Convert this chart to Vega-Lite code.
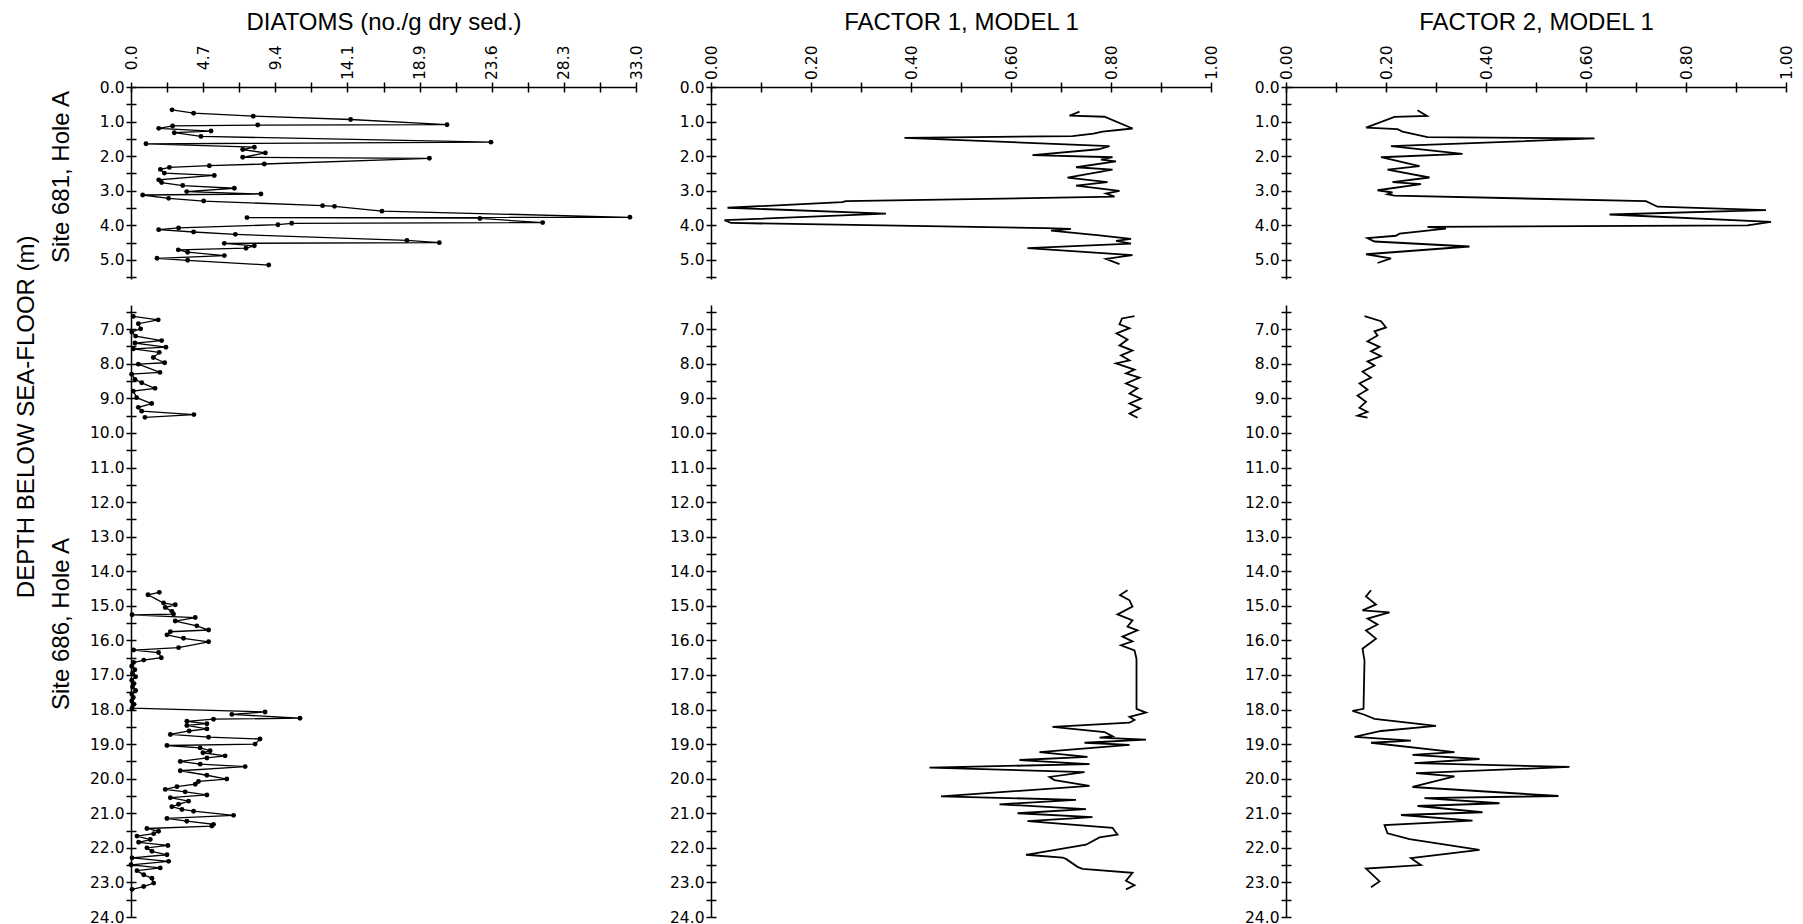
{
"$schema": "https://vega.github.io/schema/vega-lite/v6.json",
"background": "white",
"padding": {"left": 13, "top": 9, "right": 5, "bottom": 0},
"config": {
  "view": {"stroke": null},
  "font": "Liberation Sans",
  "axis": {"labelFont": "DejaVu Sans", "titleFont": "Liberation Sans", "labelColor": "black", "titleColor": "black", "domainColor": "black", "tickColor": "black", "grid": false, "labelFontSize": 15.5, "titleFontSize": 24, "titleFontWeight": "normal", "domainWidth": 1.5, "tickWidth": 1.5, "tickSize": 5, "labelFlush": false, "labelOverlap": false, "labelBound": false}
},
"datasets": {
  "dia681": [
    {"depth":0.66,"value":2.68},{"depth":0.757,"value":4.09},{"depth":0.844,"value":7.99},{"depth":0.94,"value":14.35},{"depth":1.09,"value":20.65},{"depth":1.10,"value":8.28},{"depth":1.126,"value":2.72},{"depth":1.195,"value":1.81},{"depth":1.273,"value":5.23},{"depth":1.321,"value":2.83},{"depth":1.428,"value":4.57},{"depth":1.594,"value":23.52},{"depth":1.642,"value":0.98},{"depth":1.74,"value":8.06},{"depth":1.808,"value":7.30},{"depth":1.905,"value":8.78},{"depth":2.032,"value":7.30},{"depth":2.061,"value":19.5},{"depth":2.226,"value":8.71},{"depth":2.275,"value":5.12},{"depth":2.324,"value":2.51},{"depth":2.382,"value":1.92},{"depth":2.489,"value":2.18},{"depth":2.557,"value":5.44},{"depth":2.684,"value":1.81},{"depth":2.762,"value":2.0},{"depth":2.849,"value":3.38},{"depth":2.927,"value":6.75},{"depth":3.024,"value":3.64},{"depth":3.092,"value":8.49},{"depth":3.122,"value":0.76},{"depth":3.219,"value":2.46},{"depth":3.297,"value":4.75},{"depth":3.43,"value":12.52},{"depth":3.45,"value":13.3},{"depth":3.589,"value":16.4},{"depth":3.766,"value":32.6},{"depth":3.775,"value":7.58},{"depth":3.80,"value":22.8},{"depth":3.92,"value":26.9},{"depth":3.94,"value":10.5},{"depth":3.98,"value":9.6},{"depth":4.075,"value":3.11},{"depth":4.124,"value":1.81},{"depth":4.192,"value":4.09},{"depth":4.26,"value":6.82},{"depth":4.435,"value":18.03},{"depth":4.50,"value":20.15},{"depth":4.52,"value":6.1},{"depth":4.591,"value":8.06},{"depth":4.66,"value":7.51},{"depth":4.708,"value":3.09},{"depth":4.776,"value":3.70},{"depth":4.873,"value":6.10},{"depth":4.951,"value":1.70},{"depth":5.01,"value":3.70},{"depth":5.146,"value":9.0}
  ],
  "dia686": [
    {"core":"A","depth":6.63,"value":0.15},{"core":"A","depth":6.73,"value":1.78},{"core":"A","depth":6.84,"value":0.48},{"core":"A","depth":6.99,"value":0.63},{"core":"A","depth":7.08,"value":0.05},{"core":"A","depth":7.20,"value":0.3},{"core":"A","depth":7.33,"value":2.0},{"core":"A","depth":7.40,"value":0.26},{"core":"A","depth":7.52,"value":2.28},{"core":"A","depth":7.57,"value":0.15},{"core":"A","depth":7.67,"value":1.85},{"core":"A","depth":7.82,"value":1.46},{"core":"A","depth":7.97,"value":2.2},{"core":"A","depth":8.01,"value":0.48},{"core":"A","depth":8.25,"value":1.89},{"core":"A","depth":8.30,"value":0.04},{"core":"A","depth":8.45,"value":0.26},{"core":"A","depth":8.55,"value":0.7},{"core":"A","depth":8.71,"value":1.57},{"core":"A","depth":8.79,"value":0.15},{"core":"A","depth":8.98,"value":0.37},{"core":"A","depth":9.15,"value":1.35},{"core":"A","depth":9.26,"value":0.48},{"core":"A","depth":9.37,"value":0.7},{"core":"A","depth":9.47,"value":4.11},{"core":"A","depth":9.55,"value":0.91},
    {"core":"B","depth":14.61,"value":1.85},{"core":"B","depth":14.68,"value":1.11},{"core":"B","depth":14.92,"value":2.13},{"core":"B","depth":14.97,"value":2.89},{"core":"B","depth":15.05,"value":2.24},{"core":"B","depth":15.16,"value":2.67},{"core":"B","depth":15.24,"value":2.78},{"core":"B","depth":15.26,"value":0.07},{"core":"B","depth":15.34,"value":4.2},{"core":"B","depth":15.44,"value":2.89},{"core":"B","depth":15.58,"value":4.3},{"core":"B","depth":15.70,"value":5.07},{"core":"B","depth":15.75,"value":2.57},{"core":"B","depth":15.84,"value":2.35},{"core":"B","depth":15.94,"value":3.43},{"core":"B","depth":16.04,"value":5.07},{"core":"B","depth":16.21,"value":3.11},{"core":"B","depth":16.28,"value":0.17},{"core":"B","depth":16.35,"value":1.8},{"core":"B","depth":16.50,"value":1.98},{"core":"B","depth":16.57,"value":0.83},{"core":"B","depth":16.64,"value":0.17},{"core":"B","depth":16.75,"value":0.05},{"core":"B","depth":16.85,"value":0.25},{"core":"B","depth":16.95,"value":0.1},{"core":"B","depth":17.05,"value":0.3},{"core":"B","depth":17.15,"value":0.05},{"core":"B","depth":17.25,"value":0.2},{"core":"B","depth":17.35,"value":0.1},{"core":"B","depth":17.45,"value":0.3},{"core":"B","depth":17.55,"value":0.05},{"core":"B","depth":17.65,"value":0.15},{"core":"B","depth":17.75,"value":0.05},{"core":"B","depth":17.85,"value":0.2},{"core":"B","depth":17.96,"value":0.07},{"core":"B","depth":18.07,"value":8.76},{"core":"B","depth":18.14,"value":6.59},{"core":"B","depth":18.25,"value":11.04},{"core":"B","depth":18.28,"value":5.39},{"core":"B","depth":18.34,"value":3.65},{"core":"B","depth":18.41,"value":4.96},{"core":"B","depth":18.46,"value":3.65},{"core":"B","depth":18.56,"value":4.96},{"core":"B","depth":18.62,"value":3.8},{"core":"B","depth":18.72,"value":2.57},{"core":"B","depth":18.80,"value":5.07},{"core":"B","depth":18.85,"value":8.43},{"core":"B","depth":19.00,"value":8.11},{"core":"B","depth":19.04,"value":2.35},{"core":"B","depth":19.11,"value":4.52},{"core":"B","depth":19.19,"value":5.17},{"core":"B","depth":19.25,"value":4.7},{"core":"B","depth":19.34,"value":6.15},{"core":"B","depth":19.40,"value":4.96},{"core":"B","depth":19.50,"value":3.22},{"core":"B","depth":19.58,"value":4.52},{"core":"B","depth":19.65,"value":7.46},{"core":"B","depth":19.77,"value":3.22},{"core":"B","depth":19.90,"value":4.96},{"core":"B","depth":20.01,"value":6.26},{"core":"B","depth":20.08,"value":4.41},{"core":"B","depth":20.16,"value":4.2},{"core":"B","depth":20.23,"value":3.0},{"core":"B","depth":20.31,"value":2.24},{"core":"B","depth":20.38,"value":3.54},{"core":"B","depth":20.47,"value":4.96},{"core":"B","depth":20.55,"value":2.57},{"core":"B","depth":20.65,"value":3.76},{"core":"B","depth":20.74,"value":3.11},{"core":"B","depth":20.81,"value":2.67},{"core":"B","depth":20.89,"value":3.33},{"core":"B","depth":20.94,"value":4.09},{"core":"B","depth":21.06,"value":6.7},{"core":"B","depth":21.15,"value":2.35},{"core":"B","depth":21.23,"value":3.65},{"core":"B","depth":21.32,"value":5.39},{"core":"B","depth":21.37,"value":5.28},{"core":"B","depth":21.44,"value":1.04},{"core":"B","depth":21.52,"value":1.8},{"core":"B","depth":21.59,"value":1.48},{"core":"B","depth":21.66,"value":0.39},{"core":"B","depth":21.76,"value":1.26},{"core":"B","depth":21.84,"value":0.5},{"core":"B","depth":21.93,"value":2.41},{"core":"B","depth":22.00,"value":1.04},{"core":"B","depth":22.10,"value":1.37},{"core":"B","depth":22.20,"value":2.35},{"core":"B","depth":22.29,"value":0.07},{"core":"B","depth":22.39,"value":2.46},{"core":"B","depth":22.49,"value":0.0},{"core":"B","depth":22.58,"value":1.91},{"core":"B","depth":22.66,"value":0.39},{"core":"B","depth":22.78,"value":0.83},{"core":"B","depth":22.88,"value":1.37},{"core":"B","depth":23.02,"value":1.48},{"core":"B","depth":23.12,"value":0.83},{"core":"B","depth":23.20,"value":0.07}
  ],
  "f1_681": [
    {"depth":0.71,"value":0.737},{"depth":0.83,"value":0.717},{"depth":0.86,"value":0.787},{"depth":1.20,"value":0.843},{"depth":1.29,"value":0.783},{"depth":1.35,"value":0.765},{"depth":1.42,"value":0.723},{"depth":1.47,"value":0.387},{"depth":1.71,"value":0.797},{"depth":1.80,"value":0.775},{"depth":1.97,"value":0.643},{"depth":2.03,"value":0.803},{"depth":2.10,"value":0.78},{"depth":2.15,"value":0.81},{"depth":2.32,"value":0.73},{"depth":2.39,"value":0.803},{"depth":2.62,"value":0.713},{"depth":2.75,"value":0.793},{"depth":2.85,"value":0.73},{"depth":3.00,"value":0.817},{"depth":3.08,"value":0.79},{"depth":3.17,"value":0.807},{"depth":3.30,"value":0.27},{"depth":3.33,"value":0.262},{"depth":3.49,"value":0.033},{"depth":3.66,"value":0.35},{"depth":3.85,"value":0.027},{"depth":3.93,"value":0.04},{"depth":4.08,"value":0.67},{"depth":4.10,"value":0.72},{"depth":4.15,"value":0.68},{"depth":4.29,"value":0.777},{"depth":4.39,"value":0.84},{"depth":4.45,"value":0.81},{"depth":4.53,"value":0.84},{"depth":4.66,"value":0.633},{"depth":4.86,"value":0.843},{"depth":4.97,"value":0.79},{"depth":5.12,"value":0.817}
  ],
  "f1_686": [
    {"core":"A","depth":6.62,"value":0.847},{"core":"A","depth":6.69,"value":0.822},{"core":"A","depth":6.86,"value":0.817},{"core":"A","depth":6.97,"value":0.837},{"core":"A","depth":7.12,"value":0.811},{"core":"A","depth":7.30,"value":0.833},{"core":"A","depth":7.47,"value":0.817},{"core":"A","depth":7.62,"value":0.843},{"core":"A","depth":7.76,"value":0.820},{"core":"A","depth":7.90,"value":0.837},{"core":"A","depth":7.99,"value":0.810},{"core":"A","depth":8.17,"value":0.847},{"core":"A","depth":8.28,"value":0.830},{"core":"A","depth":8.40,"value":0.857},{"core":"A","depth":8.57,"value":0.830},{"core":"A","depth":8.71,"value":0.853},{"core":"A","depth":8.86,"value":0.837},{"core":"A","depth":9.01,"value":0.860},{"core":"A","depth":9.15,"value":0.837},{"core":"A","depth":9.29,"value":0.858},{"core":"A","depth":9.44,"value":0.837},{"core":"A","depth":9.56,"value":0.853},
    {"core":"B","depth":14.55,"value":0.833},{"core":"B","depth":14.69,"value":0.818},{"core":"B","depth":14.84,"value":0.837},{"core":"B","depth":15.02,"value":0.843},{"core":"B","depth":15.25,"value":0.813},{"core":"B","depth":15.42,"value":0.843},{"core":"B","depth":15.60,"value":0.833},{"core":"B","depth":15.71,"value":0.853},{"core":"B","depth":15.89,"value":0.823},{"core":"B","depth":16.03,"value":0.843},{"core":"B","depth":16.14,"value":0.820},{"core":"B","depth":16.29,"value":0.847},{"core":"B","depth":16.53,"value":0.851},{"core":"B","depth":17.98,"value":0.851},{"core":"B","depth":18.09,"value":0.87},{"core":"B","depth":18.21,"value":0.837},{"core":"B","depth":18.30,"value":0.847},{"core":"B","depth":18.38,"value":0.837},{"core":"B","depth":18.50,"value":0.683},{"core":"B","depth":18.65,"value":0.787},{"core":"B","depth":18.77,"value":0.803},{"core":"B","depth":18.81,"value":0.777},{"core":"B","depth":18.87,"value":0.87},{"core":"B","depth":18.96,"value":0.747},{"core":"B","depth":19.02,"value":0.837},{"core":"B","depth":19.23,"value":0.657},{"core":"B","depth":19.37,"value":0.753},{"core":"B","depth":19.46,"value":0.617},{"core":"B","depth":19.58,"value":0.757},{"core":"B","depth":19.68,"value":0.437},{"core":"B","depth":19.81,"value":0.747},{"core":"B","depth":19.95,"value":0.677},{"core":"B","depth":20.04,"value":0.687},{"core":"B","depth":20.21,"value":0.757},{"core":"B","depth":20.51,"value":0.46},{"core":"B","depth":20.61,"value":0.73},{"core":"B","depth":20.74,"value":0.577},{"core":"B","depth":20.88,"value":0.75},{"core":"B","depth":21.00,"value":0.613},{"core":"B","depth":21.11,"value":0.763},{"core":"B","depth":21.23,"value":0.633},{"core":"B","depth":21.42,"value":0.803},{"core":"B","depth":21.62,"value":0.813},{"core":"B","depth":21.70,"value":0.777},{"core":"B","depth":21.91,"value":0.75},{"core":"B","depth":22.20,"value":0.63},{"core":"B","depth":22.28,"value":0.703},{"core":"B","depth":22.32,"value":0.71},{"core":"B","depth":22.55,"value":0.733},{"core":"B","depth":22.61,"value":0.743},{"core":"B","depth":22.72,"value":0.843},{"core":"B","depth":22.95,"value":0.83},{"core":"B","depth":23.08,"value":0.847},{"core":"B","depth":23.20,"value":0.83}
  ],
  "f2_681": [
    {"depth":0.67,"value":0.263},{"depth":0.835,"value":0.282},{"depth":0.864,"value":0.217},{"depth":1.175,"value":0.16},{"depth":1.22,"value":0.223},{"depth":1.29,"value":0.233},{"depth":1.448,"value":0.283},{"depth":1.487,"value":0.617},{"depth":1.71,"value":0.21},{"depth":1.935,"value":0.353},{"depth":2.03,"value":0.19},{"depth":2.29,"value":0.267},{"depth":2.39,"value":0.203},{"depth":2.616,"value":0.287},{"depth":2.75,"value":0.213},{"depth":2.81,"value":0.27},{"depth":2.985,"value":0.183},{"depth":3.05,"value":0.213},{"depth":3.10,"value":0.203},{"depth":3.14,"value":0.217},{"depth":3.30,"value":0.72},{"depth":3.46,"value":0.743},{"depth":3.56,"value":0.96},{"depth":3.686,"value":0.647},{"depth":3.90,"value":0.97},{"depth":3.997,"value":0.923},{"depth":4.045,"value":0.283},{"depth":4.095,"value":0.32},{"depth":4.24,"value":0.227},{"depth":4.30,"value":0.22},{"depth":4.37,"value":0.163},{"depth":4.466,"value":0.177},{"depth":4.61,"value":0.367},{"depth":4.835,"value":0.16},{"depth":4.951,"value":0.21},{"depth":5.087,"value":0.183}
  ],
  "f2_686": [
    {"core":"A","depth":6.62,"value":0.157},{"core":"A","depth":6.77,"value":0.19},{"core":"A","depth":6.95,"value":0.2},{"core":"A","depth":7.06,"value":0.177},{"core":"A","depth":7.18,"value":0.183},{"core":"A","depth":7.35,"value":0.163},{"core":"A","depth":7.51,"value":0.187},{"core":"A","depth":7.64,"value":0.17},{"core":"A","depth":7.78,"value":0.19},{"core":"A","depth":7.93,"value":0.163},{"core":"A","depth":8.05,"value":0.177},{"core":"A","depth":8.23,"value":0.153},{"core":"A","depth":8.40,"value":0.17},{"core":"A","depth":8.57,"value":0.147},{"core":"A","depth":8.75,"value":0.163},{"core":"A","depth":8.92,"value":0.143},{"core":"A","depth":9.10,"value":0.16},{"core":"A","depth":9.27,"value":0.147},{"core":"A","depth":9.39,"value":0.163},{"core":"A","depth":9.50,"value":0.143},{"core":"A","depth":9.56,"value":0.163},
    {"core":"B","depth":14.55,"value":0.17},{"core":"B","depth":14.73,"value":0.16},{"core":"B","depth":14.96,"value":0.18},{"core":"B","depth":15.13,"value":0.153},{"core":"B","depth":15.19,"value":0.207},{"core":"B","depth":15.37,"value":0.163},{"core":"B","depth":15.54,"value":0.183},{"core":"B","depth":15.71,"value":0.16},{"core":"B","depth":15.95,"value":0.18},{"core":"B","depth":16.24,"value":0.153},{"core":"B","depth":16.58,"value":0.157},{"core":"B","depth":17.98,"value":0.155},{"core":"B","depth":18.04,"value":0.133},{"core":"B","depth":18.15,"value":0.157},{"core":"B","depth":18.27,"value":0.177},{"core":"B","depth":18.47,"value":0.3},{"core":"B","depth":18.62,"value":0.19},{"core":"B","depth":18.79,"value":0.137},{"core":"B","depth":18.90,"value":0.25},{"core":"B","depth":18.96,"value":0.17},{"core":"B","depth":19.23,"value":0.337},{"core":"B","depth":19.31,"value":0.253},{"core":"B","depth":19.43,"value":0.387},{"core":"B","depth":19.55,"value":0.257},{"core":"B","depth":19.66,"value":0.567},{"core":"B","depth":19.84,"value":0.26},{"core":"B","depth":19.93,"value":0.337},{"core":"B","depth":20.24,"value":0.253},{"core":"B","depth":20.50,"value":0.545},{"core":"B","depth":20.56,"value":0.277},{"core":"B","depth":20.71,"value":0.427},{"core":"B","depth":20.79,"value":0.263},{"core":"B","depth":20.97,"value":0.393},{"core":"B","depth":21.05,"value":0.23},{"core":"B","depth":21.21,"value":0.373},{"core":"B","depth":21.34,"value":0.197},{"core":"B","depth":21.58,"value":0.203},{"core":"B","depth":21.75,"value":0.247},{"core":"B","depth":22.06,"value":0.387},{"core":"B","depth":22.30,"value":0.25},{"core":"B","depth":22.50,"value":0.27},{"core":"B","depth":22.60,"value":0.16},{"core":"B","depth":22.97,"value":0.187},{"core":"B","depth":23.14,"value":0.17}
  ]
},
"columns": 3,
"spacing": {"row": 26, "column": 75},
"bounds": "flush",
"concat": [
    {"width": 505, "height": 192, "data": {"name": "dia681"},
     "layer": [
      {"mark": {"type": "line", "color": "black", "strokeWidth": 1.3, "point": {"filled": true, "size": 24, "color": "black"}},
       "encoding": {
        "x": {"field": "value", "type": "quantitative", "scale": {"domain": [0, 33], "nice": false, "zero": false},
              "axis": {"orient": "top", "values": [0, 2.357142857, 4.714285714, 7.071428571, 9.428571429, 11.78571429, 14.14285714, 16.5, 18.85714286, 21.21428571, 23.57142857, 25.92857143, 28.28571429, 30.64285714, 33], "labelExpr": "abs(datum.value*7/33 - round(datum.value*7/33)) < 0.01 ? format(datum.value, '.1f') : ''", "labelAngle": -90, "labelAlign": "right", "labelBaseline": "middle", "labelPadding": 37, "title": "DIATOMS (no./g dry sed.)", "titlePadding": 11}},
        "y": {"field": "depth", "type": "quantitative", "scale": {"domain": [0, 5.55], "reverse": true, "nice": false, "zero": false},
              "axis": {"orient": "left", "values": [0,0.5,1,1.5,2,2.5,3,3.5,4,4.5,5,5.5], "labelExpr": "datum.value % 1 === 0 ? format(datum.value, '.1f') : ''", "labelPadding": 2, "title": "Site 681, Hole A", "titleX": -70, "titleY": 89.5, "titleAlign": "center", "titleBaseline": "middle"}},
        "order": {"field": "depth"}}},
      {"mark": {"type": "point", "opacity": 0},
       "encoding": {
        "x": {"field": "value", "type": "quantitative", "scale": {"domain": [0, 33], "nice": false, "zero": false},
              "axis": {"orient": "bottom", "offset": -192, "values": [0, 2.357142857, 4.714285714, 7.071428571, 9.428571429, 11.78571429, 14.14285714, 16.5, 18.85714286, 21.21428571, 23.57142857, 25.92857143, 28.28571429, 30.64285714, 33], "labels": false, "domain": false, "title": null}},
        "y": {"field": "depth", "type": "quantitative", "scale": {"domain": [0, 5.55], "reverse": true, "nice": false, "zero": false},
              "axis": {"orient": "right", "offset": -505, "values": [0,0.5,1,1.5,2,2.5,3,3.5,4,4.5,5,5.5], "labels": false, "domain": false, "title": null}}}}
     ],
     "resolve": {"axis": {"x": "independent", "y": "independent"}}},
    {"width": 500, "height": 192, "data": {"name": "f1_681"},
     "layer": [
      {"mark": {"type": "line", "color": "black", "strokeWidth": 1.8},
       "encoding": {
        "x": {"field": "value", "type": "quantitative", "scale": {"domain": [0, 1], "nice": false, "zero": false},
              "axis": {"orient": "top", "values": [0,0.1,0.2,0.3,0.4,0.5,0.6,0.7,0.8,0.9,1], "labelExpr": "abs(datum.value*5 - round(datum.value*5)) < 0.001 ? format(datum.value, '.2f') : ''", "labelAngle": -90, "labelAlign": "right", "labelBaseline": "middle", "labelPadding": 37, "title": "FACTOR 1, MODEL 1", "titlePadding": 11}},
        "y": {"field": "depth", "type": "quantitative", "scale": {"domain": [0, 5.55], "reverse": true, "nice": false, "zero": false},
              "axis": {"orient": "left", "values": [0,0.5,1,1.5,2,2.5,3,3.5,4,4.5,5,5.5], "labelExpr": "datum.value % 1 === 0 ? format(datum.value, '.1f') : ''", "labelPadding": 2, "title": null}},
        "order": {"field": "depth"}}},
      {"mark": {"type": "point", "opacity": 0},
       "encoding": {
        "x": {"field": "value", "type": "quantitative", "scale": {"domain": [0, 1], "nice": false, "zero": false},
              "axis": {"orient": "bottom", "offset": -192, "values": [0,0.1,0.2,0.3,0.4,0.5,0.6,0.7,0.8,0.9,1], "labels": false, "domain": false, "title": null}},
        "y": {"field": "depth", "type": "quantitative", "scale": {"domain": [0, 5.55], "reverse": true, "nice": false, "zero": false},
              "axis": {"orient": "right", "offset": -500, "values": [0,0.5,1,1.5,2,2.5,3,3.5,4,4.5,5,5.5], "labels": false, "domain": false, "title": null}}}}
     ],
     "resolve": {"axis": {"x": "independent", "y": "independent"}}},
    {"width": 500, "height": 192, "data": {"name": "f2_681"},
     "layer": [
      {"mark": {"type": "line", "color": "black", "strokeWidth": 1.8},
       "encoding": {
        "x": {"field": "value", "type": "quantitative", "scale": {"domain": [0, 1], "nice": false, "zero": false},
              "axis": {"orient": "top", "values": [0,0.1,0.2,0.3,0.4,0.5,0.6,0.7,0.8,0.9,1], "labelExpr": "abs(datum.value*5 - round(datum.value*5)) < 0.001 ? format(datum.value, '.2f') : ''", "labelAngle": -90, "labelAlign": "right", "labelBaseline": "middle", "labelPadding": 37, "title": "FACTOR 2, MODEL 1", "titlePadding": 11}},
        "y": {"field": "depth", "type": "quantitative", "scale": {"domain": [0, 5.55], "reverse": true, "nice": false, "zero": false},
              "axis": {"orient": "left", "values": [0,0.5,1,1.5,2,2.5,3,3.5,4,4.5,5,5.5], "labelExpr": "datum.value % 1 === 0 ? format(datum.value, '.1f') : ''", "labelPadding": 2, "title": null}},
        "order": {"field": "depth"}}},
      {"mark": {"type": "point", "opacity": 0},
       "encoding": {
        "x": {"field": "value", "type": "quantitative", "scale": {"domain": [0, 1], "nice": false, "zero": false},
              "axis": {"orient": "bottom", "offset": -192, "values": [0,0.1,0.2,0.3,0.4,0.5,0.6,0.7,0.8,0.9,1], "labels": false, "domain": false, "title": null}},
        "y": {"field": "depth", "type": "quantitative", "scale": {"domain": [0, 5.55], "reverse": true, "nice": false, "zero": false},
              "axis": {"orient": "right", "offset": -500, "values": [0,0.5,1,1.5,2,2.5,3,3.5,4,4.5,5,5.5], "labels": false, "domain": false, "title": null}}}}
     ],
     "resolve": {"axis": {"x": "independent", "y": "independent"}}},
    {"width": 505, "height": 612, "data": {"name": "dia686"},
     "layer": [
      {"mark": {"type": "line", "color": "black", "strokeWidth": 1.3, "point": {"filled": true, "size": 24, "color": "black"}},
       "encoding": {
        "x": {"field": "value", "type": "quantitative", "scale": {"domain": [0, 33], "nice": false, "zero": false}, "axis": null},
        "y": {"field": "depth", "type": "quantitative", "scale": {"domain": [6.3, 24], "reverse": true, "nice": false, "zero": false},
              "axis": {"orient": "left", "values": [6.5,7,7.5,8,8.5,9,9.5,10,10.5,11,11.5,12,12.5,13,13.5,14,14.5,15,15.5,16,16.5,17,17.5,18,18.5,19,19.5,20,20.5,21,21.5,22,22.5,23,23.5,24], "labelExpr": "datum.value % 1 === 0 ? format(datum.value, '.1f') : ''", "labelPadding": 2, "title": "Site 686, Hole A", "titleX": -70, "titleY": 318.5, "titleAlign": "center", "titleBaseline": "middle"}},
        "detail": {"field": "core", "type": "nominal"},
        "order": {"field": "depth"}}},
      {"mark": {"type": "point", "opacity": 0},
       "encoding": {
        "x": {"field": "value", "type": "quantitative", "scale": {"domain": [0, 33], "nice": false, "zero": false}, "axis": null},
        "y": {"field": "depth", "type": "quantitative", "scale": {"domain": [6.3, 24], "reverse": true, "nice": false, "zero": false},
              "axis": {"orient": "right", "offset": -505, "values": [6.5,7,7.5,8,8.5,9,9.5,10,10.5,11,11.5,12,12.5,13,13.5,14,14.5,15,15.5,16,16.5,17,17.5,18,18.5,19,19.5,20,20.5,21,21.5,22,22.5,23,23.5,24], "labels": false, "domain": false, "title": "DEPTH BELOW SEA-FLOOR (m)", "titleAngle": -90, "titleX": -105, "titleY": 111.3, "titleAlign": "center", "titleBaseline": "middle"}}}}
     ],
     "resolve": {"axis": {"x": "independent", "y": "independent"}}},
    {"width": 500, "height": 612, "data": {"name": "f1_686"},
     "layer": [
      {"mark": {"type": "line", "color": "black", "strokeWidth": 1.8},
       "encoding": {
        "x": {"field": "value", "type": "quantitative", "scale": {"domain": [0, 1], "nice": false, "zero": false}, "axis": null},
        "y": {"field": "depth", "type": "quantitative", "scale": {"domain": [6.3, 24], "reverse": true, "nice": false, "zero": false},
              "axis": {"orient": "left", "values": [6.5,7,7.5,8,8.5,9,9.5,10,10.5,11,11.5,12,12.5,13,13.5,14,14.5,15,15.5,16,16.5,17,17.5,18,18.5,19,19.5,20,20.5,21,21.5,22,22.5,23,23.5,24], "labelExpr": "datum.value % 1 === 0 ? format(datum.value, '.1f') : ''", "labelPadding": 2, "title": null}},
        "detail": {"field": "core", "type": "nominal"},
        "order": {"field": "depth"}}},
      {"mark": {"type": "point", "opacity": 0},
       "encoding": {
        "x": {"field": "value", "type": "quantitative", "scale": {"domain": [0, 1], "nice": false, "zero": false}, "axis": null},
        "y": {"field": "depth", "type": "quantitative", "scale": {"domain": [6.3, 24], "reverse": true, "nice": false, "zero": false},
              "axis": {"orient": "right", "offset": -500, "values": [6.5,7,7.5,8,8.5,9,9.5,10,10.5,11,11.5,12,12.5,13,13.5,14,14.5,15,15.5,16,16.5,17,17.5,18,18.5,19,19.5,20,20.5,21,21.5,22,22.5,23,23.5,24], "labels": false, "domain": false, "title": null}}}}
     ],
     "resolve": {"axis": {"x": "independent", "y": "independent"}}},
    {"width": 500, "height": 612, "data": {"name": "f2_686"},
     "layer": [
      {"mark": {"type": "line", "color": "black", "strokeWidth": 1.8},
       "encoding": {
        "x": {"field": "value", "type": "quantitative", "scale": {"domain": [0, 1], "nice": false, "zero": false}, "axis": null},
        "y": {"field": "depth", "type": "quantitative", "scale": {"domain": [6.3, 24], "reverse": true, "nice": false, "zero": false},
              "axis": {"orient": "left", "values": [6.5,7,7.5,8,8.5,9,9.5,10,10.5,11,11.5,12,12.5,13,13.5,14,14.5,15,15.5,16,16.5,17,17.5,18,18.5,19,19.5,20,20.5,21,21.5,22,22.5,23,23.5,24], "labelExpr": "datum.value % 1 === 0 ? format(datum.value, '.1f') : ''", "labelPadding": 2, "title": null}},
        "detail": {"field": "core", "type": "nominal"},
        "order": {"field": "depth"}}},
      {"mark": {"type": "point", "opacity": 0},
       "encoding": {
        "x": {"field": "value", "type": "quantitative", "scale": {"domain": [0, 1], "nice": false, "zero": false}, "axis": null},
        "y": {"field": "depth", "type": "quantitative", "scale": {"domain": [6.3, 24], "reverse": true, "nice": false, "zero": false},
              "axis": {"orient": "right", "offset": -500, "values": [6.5,7,7.5,8,8.5,9,9.5,10,10.5,11,11.5,12,12.5,13,13.5,14,14.5,15,15.5,16,16.5,17,17.5,18,18.5,19,19.5,20,20.5,21,21.5,22,22.5,23,23.5,24], "labels": false, "domain": false, "title": null}}}}
     ],
     "resolve": {"axis": {"x": "independent", "y": "independent"}}}
]
}
